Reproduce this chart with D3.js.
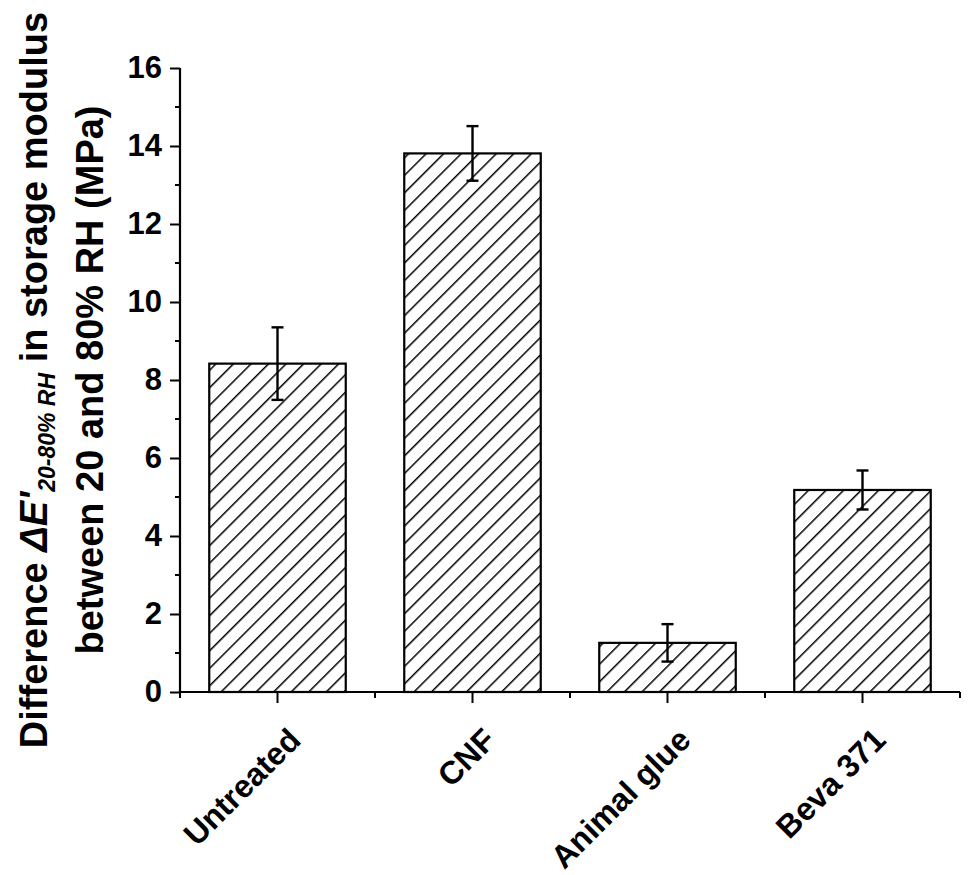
<!DOCTYPE html>
<html><head><meta charset="utf-8">
<script src="https://cdn.jsdelivr.net/npm/d3@7"></script>
<style>
html,body{margin:0;padding:0;background:#fff;}
svg text{font-family:"Liberation Sans",Arial,Helvetica,sans-serif;font-weight:bold;fill:#000;}
</style></head>
<body>
<svg id="chart" width="975" height="875"></svg>
<script>
const categories = ["Untreated", "CNF", "Animal glue", "Beva 371"];
const values = [8.42, 13.81, 1.26, 5.18];
const errors = [0.93, 0.70, 0.48, 0.50];
const yTicks = [0, 2, 4, 6, 8, 10, 12, 14, 16];

(function () {
const svg = d3.select("#chart");
const mLeft = 180, mRight = 960, mTop = 68, mBottom = 692;

const x = d3.scaleBand().domain(categories).range([mLeft, mRight])
  .paddingInner(0.3).paddingOuter(0.15);
const y = d3.scaleLinear().domain([0, 16]).range([mBottom, mTop]);

// hatch pattern
const defs = svg.append("defs");
const pat = defs.append("pattern").attr("id", "hatch")
  .attr("patternUnits", "userSpaceOnUse")
  .attr("width", 12.4).attr("height", 12.4)
  .attr("patternTransform", "rotate(45)");
pat.append("rect").attr("width", 12.4).attr("height", 12.4).attr("fill", "#fff");
pat.append("line").attr("x1", 0).attr("y1", -1).attr("x2", 0).attr("y2", 14)
  .attr("stroke", "#000").attr("stroke-width", 3);

// bars
svg.append("g").selectAll("rect").data(categories).join("rect")
  .attr("x", d => x(d))
  .attr("y", (d, i) => y(values[i]))
  .attr("width", x.bandwidth())
  .attr("height", (d, i) => y(0) - y(values[i]))
  .attr("fill", "url(#hatch)")
  .attr("stroke", "#000").attr("stroke-width", 2.2);

// error bars
const eg = svg.append("g").attr("stroke", "#000").attr("stroke-width", 2.4);
categories.forEach((c, i) => {
  const cx = x(c) + x.bandwidth() / 2;
  const y1 = y(values[i] + errors[i]), y2 = y(values[i] - errors[i]);
  eg.append("line").attr("x1", cx).attr("x2", cx).attr("y1", y1).attr("y2", y2);
  eg.append("line").attr("x1", cx - 6).attr("x2", cx + 6).attr("y1", y1).attr("y2", y1);
  eg.append("line").attr("x1", cx - 6).attr("x2", cx + 6).attr("y1", y2).attr("y2", y2);
});

// y axis
const yAxis = svg.append("g").attr("transform", `translate(${mLeft},0)`)
  .call(d3.axisLeft(y).tickValues(yTicks).tickSize(10).tickPadding(8).tickFormat(d3.format("d")));
yAxis.select(".domain").attr("d", `M0,${mBottom}V${mTop}`).attr("stroke-width", 2.2);
yAxis.selectAll(".tick line").attr("stroke-width", 2);
yAxis.selectAll(".tick text").style("font-size", "31px").attr("dy", "0.32em");
// minor y ticks
svg.append("g").selectAll("line").data(d3.range(1, 16, 2)).join("line")
  .attr("x1", mLeft - 5).attr("x2", mLeft).attr("y1", d => y(d)).attr("y2", d => y(d))
  .attr("stroke", "#000").attr("stroke-width", 2);

// x axis
const xAxis = svg.append("g").attr("transform", `translate(0,${mBottom})`)
  .call(d3.axisBottom(x).tickSize(11).tickFormat(""));
xAxis.select(".domain").attr("d", `M${mLeft},0H${mRight}`).attr("stroke-width", 2.2);
xAxis.selectAll(".tick line").attr("stroke-width", 2);
// minor x ticks at band boundaries
const bounds = d3.range(categories.length + 1).map(i => mLeft + i * x.step());
svg.append("g").selectAll("line").data(bounds).join("line")
  .attr("x1", d => d).attr("x2", d => d).attr("y1", mBottom).attr("y2", mBottom + 6)
  .attr("stroke", "#000").attr("stroke-width", 2);

// x labels rotated
svg.append("g").selectAll("text").data(categories).join("text")
  .attr("transform", d => `translate(${x(d) + x.bandwidth() / 2 + 25},${mBottom + 50}) rotate(-45)`)
  .attr("text-anchor", "end")
  .style("font-size", "32px")
  .text(d => d);

// y title
const cy = (mTop + mBottom) / 2;
const t1 = svg.append("text")
  .attr("transform", `translate(47,${cy}) rotate(-90)`)
  .attr("text-anchor", "middle").style("font-size", "38px");
t1.append("tspan").text("Difference ");
t1.append("tspan").style("font-style", "italic").text("\u0394E'");
t1.append("tspan").style("font-style", "italic").style("font-size", "23px").attr("dy", "8").text("20-80% RH");
t1.append("tspan").attr("dy", "-8").text(" in storage modulus");
svg.append("text")
  .attr("transform", `translate(103,${cy}) rotate(-90)`)
  .attr("text-anchor", "middle").style("font-size", "38px")
  .text("between 20 and 80% RH (MPa)");
})();
</script>
</body></html>
